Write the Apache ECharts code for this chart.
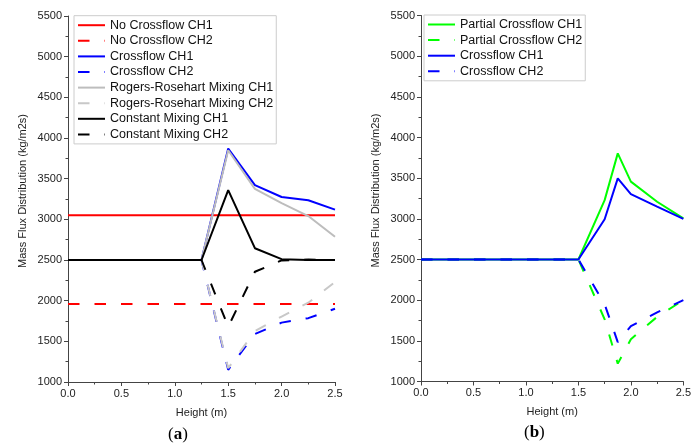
<!DOCTYPE html>
<html><head><meta charset="utf-8">
<script src="https://cdn.jsdelivr.net/npm/echarts@6/dist/echarts.min.js"></script>
<style>html,body{margin:0;padding:0;background:#fff}#c{width:694px;height:445px}</style>
</head><body><div id="c"></div>
<script>
// Panel (a)
const heightA = [0, 0.25, 0.5, 0.75, 1.0, 1.25, 1.5, 1.75, 2.0, 2.25, 2.5];
const noCrossCH1 = [3050, 3050, 3050, 3050, 3050, 3050, 3050, 3050, 3050, 3050, 3050];
const noCrossCH2 = [1960, 1960, 1960, 1960, 1960, 1960, 1960, 1960, 1960, 1960, 1960];
const crossCH1A = [2500, 2500, 2500, 2500, 2500, 2500, 3870, 3420, 3275, 3235, 3120];
const crossCH2A = [2500, 2500, 2500, 2500, 2500, 2500, 1150, 1590, 1730, 1785, 1900];
const rogersCH1 = [2500, 2500, 2500, 2500, 2500, 2500, 3850, 3375, 3200, 3040, 2785];
const rogersCH2 = [2500, 2500, 2500, 2500, 2500, 2500, 1170, 1625, 1805, 1975, 2230];
const constCH1 = [2500, 2500, 2500, 2500, 2500, 2500, 3360, 2645, 2510, 2500, 2500];
const constCH2 = [2500, 2500, 2500, 2500, 2500, 2500, 1680, 2355, 2495, 2505, 2500];
// Panel (b)
const heightB = [0, 0.25, 0.5, 0.75, 1.0, 1.25, 1.5, 1.75, 1.875, 2.0, 2.25, 2.5];
const partialCH1 = [2500, 2500, 2500, 2500, 2500, 2500, 2500, 3230, 3805, 3457, 3210, 3005];
const partialCH2 = [2500, 2500, 2500, 2500, 2500, 2500, 2500, 1765, 1220, 1520, 1795, 2000];
const crossCH1B = [2500, 2500, 2500, 2500, 2500, 2500, 2500, 2995, 3498, 3305, 3150, 3000];
const crossCH2B = [2500, 2500, 2500, 2500, 2500, 2500, 2500, 1950, 1485, 1680, 1850, 2000];
// Axis ticks
const xTicks = {min: 0, max: 2.5, interval: 0.5};
const yTicks = {min: 1000, max: 5500, interval: 500};

const FONT = 'Liberation Sans, Arial, sans-serif';
const DASH = [11.5, 15];

function pairs(xs, ys) { return xs.map((x, i) => [x, ys[i]]); }
function ser(name, xs, ys, color, dashed, idx) {
  return {
    name: name, type: 'line', xAxisIndex: idx, yAxisIndex: idx,
    data: pairs(xs, ys), symbol: 'none', animation: false,
    lineStyle: {color: color, width: 2, type: dashed ? DASH : 'solid'},
    itemStyle: {color: color}
  };
}
function xAxis(idx) {
  return {
    type: 'value', gridIndex: idx, min: xTicks.min, max: xTicks.max, interval: xTicks.interval,
    name: 'Height (m)', nameLocation: 'middle', nameGap: 25,
    nameTextStyle: {fontFamily: FONT, fontSize: 11, color: '#222'},
    axisLine: {show: true, onZero: false, lineStyle: {color: '#444', width: 1}},
    axisTick: {show: true, inside: false, length: 4, lineStyle: {color: '#444'}},
    minorTick: {show: true, splitNumber: 2, length: 2.5, lineStyle: {color: '#444'}},
    splitLine: {show: false},
    axisLabel: {fontFamily: FONT, fontSize: 11, color: '#222', margin: 6,
      formatter: v => v.toFixed(1)}
  };
}
function yAxis(idx) {
  return {
    type: 'value', gridIndex: idx, min: yTicks.min, max: yTicks.max, interval: yTicks.interval,
    name: 'Mass Flux Distribution (kg/m2s)', nameLocation: 'middle', nameGap: 40,
    nameTextStyle: {fontFamily: FONT, fontSize: 11, color: '#222', padding: [0, 0, 0, 16]},
    axisLine: {show: true, onZero: false, lineStyle: {color: '#444', width: 1}},
    axisTick: {show: true, inside: false, length: 4, lineStyle: {color: '#444'}},
    minorTick: {show: true, splitNumber: 2, length: 2.5, lineStyle: {color: '#444'}},
    splitLine: {show: false},
    axisLabel: {fontFamily: FONT, fontSize: 11, color: '#222', margin: 6,
      formatter: v => String(v)}
  };
}
function legend(left, top, names) {
  return {
    left: left, top: top, orient: 'vertical', data: names,
    itemWidth: 27, itemHeight: 14, itemGap: 1.6,
    padding: [2.5, 3, 2.5, 3], borderColor: '#cccccc', borderWidth: 1,
    selectedMode: false,
    itemStyle: {opacity: 0, borderWidth: 0},
    textStyle: {fontFamily: FONT, fontSize: 12.5, color: '#111', lineHeight: 14}
  };
}

const chart = echarts.init(document.getElementById('c'), null, {renderer: 'canvas'});
chart.setOption({
  backgroundColor: '#fff',
  animation: false,
  grid: [
    {left: 68, top: 16, width: 267, height: 366},
    {left: 421, top: 15.5, width: 265, height: 366}
  ],
  xAxis: [xAxis(0), xAxis(1)],
  yAxis: [yAxis(0), yAxis(1)],
  legend: [
    legend(74, 15.7, ['No Crossflow CH1', 'No Crossflow CH2', 'Crossflow CH1', 'Crossflow CH2',
      'Rogers-Rosehart Mixing CH1', 'Rogers-Rosehart Mixing CH2', 'Constant Mixing CH1', 'Constant Mixing CH2']),
    legend(424, 15, ['Partial Crossflow CH1', 'Partial Crossflow CH2', 'Crossflow CH1', 'Crossflow CH2'])
  ],
  series: [
    ser('No Crossflow CH1', heightA, noCrossCH1, '#ff0000', false, 0),
    ser('No Crossflow CH2', heightA, noCrossCH2, '#ff0000', true, 0),
    ser('Crossflow CH1', heightA, crossCH1A, '#0000ff', false, 0),
    ser('Crossflow CH2', heightA, crossCH2A, '#0000ff', true, 0),
    ser('Rogers-Rosehart Mixing CH1', heightA, rogersCH1, '#bdbdbd', false, 0),
    ser('Rogers-Rosehart Mixing CH2', heightA, rogersCH2, '#c8c8c8', true, 0),
    ser('Constant Mixing CH1', heightA, constCH1, '#000000', false, 0),
    ser('Constant Mixing CH2', heightA, constCH2, '#000000', true, 0),
    ser('Partial Crossflow CH1', heightB, partialCH1, '#00ff00', false, 1),
    ser('Partial Crossflow CH2', heightB, partialCH2, '#00ff00', true, 1),
    ser('Crossflow CH1', heightB, crossCH1B, '#0000ff', false, 1),
    ser('Crossflow CH2', heightB, crossCH2B, '#0000ff', true, 1)
  ],
  graphic: [
    {type: 'text', left: 168, top: 426, style: {
      text: '{p|(}{b|a}{p|)}',
      rich: {p: {fontFamily: 'Liberation Serif, serif', fontSize: 17, fill: '#000'},
             b: {fontFamily: 'Liberation Serif, serif', fontSize: 17, fontWeight: 'bold', fill: '#000'}}}},
    {type: 'text', left: 524, top: 424, style: {
      text: '{p|(}{b|b}{p|)}',
      rich: {p: {fontFamily: 'Liberation Serif, serif', fontSize: 17, fill: '#000'},
             b: {fontFamily: 'Liberation Serif, serif', fontSize: 17, fontWeight: 'bold', fill: '#000'}}}}
  ]
});
</script></body></html>
